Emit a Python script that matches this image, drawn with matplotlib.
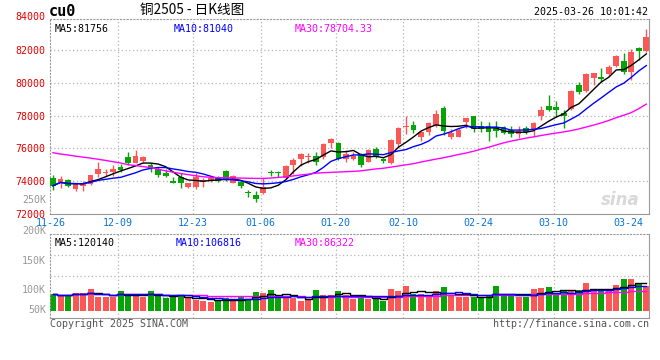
import numpy as np
import pandas as pd
import matplotlib
matplotlib.use('Agg')
import matplotlib.pyplot as plt

# daily candles, 2024-11-26 .. 2025-03-26
opens = [74200, 73940, 74060, 73510, 73710, 73800, 74410, 74470, 74550, 74880,
         75490, 75120, 75240, 74980, 74730, 74470, 74000, 74270, 73650, 73650,
         73920, 74000, 74200, 74610, 73900, 73960, 73350, 73150, 73250, 74570,
         74550, 74200, 74980, 75320, 75480, 75550, 75480, 76300, 76340, 75320,
         75360, 75650, 75180, 75950, 75340, 75080, 76240, 77330, 77440, 76700,
         77010, 77420, 78460, 76700, 76700, 77600, 77960, 77350, 77350, 77250,
         77320, 77130, 76880, 77230, 77090, 78000, 78570, 78510, 78160, 78410,
         79890, 79520, 80270, 80340, 80540, 81000, 81350, 80640, 82120, 81920]
highs = [74370, 74300, 74100, 73860, 74020, 74370, 75180, 74730, 74980, 75040,
         75800, 75900, 75550, 75080, 74840, 74710, 74270, 74510, 73900, 74470,
         74160, 74260, 74300, 74670, 74370, 74020, 73450, 73390, 74160, 74670,
         74630, 74960, 75380, 75730, 75690, 75790, 76300, 76640, 76400, 75890,
         75790, 75690, 75930, 76090, 75380, 76540, 77310, 77960, 77680, 77070,
         77620, 78370, 78590, 77150, 77270, 77880, 77960, 77680, 77620, 77660,
         77390, 77390, 77390, 77350, 77590, 78570, 79280, 78910, 78310, 79560,
         80030, 80600, 80600, 80880, 81110, 81700, 81840, 82060, 82200, 83280]
lows = [73450, 73590, 73650, 73410, 73390, 73760, 74270, 74310, 74310, 74570,
        74980, 75080, 75180, 74530, 74270, 74250, 73860, 73590, 73550, 73510,
        73650, 73960, 73960, 74020, 73860, 73590, 73000, 72740, 73210, 74300,
        74260, 74200, 74410, 74920, 75080, 74980, 75320, 75990, 75280, 75180,
        75280, 74870, 75160, 75380, 75120, 75040, 76090, 76870, 76910, 76460,
        76810, 77310, 76810, 76560, 76660, 77270, 77010, 77010, 76450, 76700,
        76880, 76720, 76640, 76880, 76720, 77700, 78260, 77900, 77250, 78350,
        79320, 79460, 79890, 80030, 80440, 80940, 80540, 80190, 81410, 81860]
closes = [73710, 74120, 73710, 73820, 73800, 74370, 74730, 74570, 74730, 74670,
          75120, 75530, 75450, 74710, 74370, 74330, 73900, 73860, 73860, 74220,
          74080, 74160, 74000, 74060, 74300, 73700, 73250, 72880, 73610, 74470,
          74510, 74920, 75280, 75650, 75550, 75180, 76260, 76560, 75320, 75650,
          75545, 74980, 75890, 75480, 75220, 76500, 77250, 77380, 77110, 77010,
          77560, 78090, 77040, 76950, 77100, 77840, 77180, 77150, 76990, 77070,
          76920, 76880, 77050, 76990, 77530, 78350, 78350, 78310, 78000, 79480,
          79420, 80540, 80580, 80230, 80940, 81650, 80640, 81860, 81920, 82770]
# MA30 as drawn (needs history before the first visible day)
ma30 = [75730, 75650, 75590, 75520, 75460, 75400, 75330, 75260, 75180, 75100,
        75000, 74940, 74880, 74820, 74720, 74620, 74540, 74460, 74390, 74320,
        74260, 74230, 74200, 74200, 74190, 74180, 74170, 74160, 74160, 74180,
        74220, 74260, 74310, 74370, 74420, 74480, 74510, 74530, 74550, 74570,
        74590, 74620, 74680, 74740, 74780, 74850, 74920, 74990, 75060, 75160,
        75250, 75340, 75420, 75520, 75620, 75710, 75820, 75950, 76060, 76200,
        76330, 76440, 76530, 76620, 76700, 76780, 76860, 76930, 77000, 77080,
        77180, 77300, 77420, 77550, 77700, 77870, 78020, 78180, 78420, 78700]
volumes = [73, 62, 69, 76, 76, 94, 59, 59, 59, 83,
           69, 70, 59, 83, 66, 55, 59, 66, 55, 48,
           41, 38, 41, 55, 49, 59, 48, 80, 76, 87,
           55, 56, 56, 42, 48, 87, 66, 66, 85, 69,
           52, 56, 52, 52, 41, 92, 85, 104, 73, 73,
           59, 83, 100, 69, 59, 59, 59, 59, 69, 104,
           66, 66, 59, 59, 92, 97, 100, 66, 85, 87,
           87, 118, 87, 87, 92, 109, 134, 134, 118, 104]
volumes = [v * 1000 for v in volumes]

date_idx = [0, 9, 19, 28, 38, 47, 57, 67, 77]
date_labels = ['11-26', '12-09', '12-23', '01-06', '01-20', '02-10', '02-24', '03-10', '03-24']
price_ticks = [72000, 74000, 76000, 78000, 80000, 82000]
vol_labels = ['250K', '200K', '150K', '100K', '50K']
vol_label_y = [200, 231, 261, 290, 310]

RED = '#fa5757'
GREEN = '#07a307'
GRID = '#b4b4b4'
MONO = 'DejaVu Sans Mono'
FS = 7.2

W, H = 660, 360
fig = plt.figure(figsize=(W / 100, H / 100), dpi=100)


def px_axes(l, t, r, b):
    return fig.add_axes([l / W, 1 - b / H, (r - l) / W, (b - t) / H])


n = len(closes)
x = np.arange(n)
o = np.array(opens); c = np.array(closes)
h = np.array(highs); lo = np.array(lows)
up = c >= o
cols = np.where(up, RED, GREEN)
gx = [i - 0.35 for i in date_idx]

# ---- price panel
ax = px_axes(50, 19, 649, 213.75)
ax.set_xlim(-0.4, 79.36)
ax.set_ylim(72000, 83900)
for p in price_ticks[1:]:
    ax.axhline(p, color=GRID, lw=0.9, ls=(0, (1, 2)), zorder=0)
for g in gx[1:-1]:
    ax.axvline(g, color=GRID, lw=0.9, ls=(0, (1, 2)), zorder=0)

ax.vlines(x, lo, h, colors=cols, lw=1, zorder=2)
body = np.maximum(np.abs(c - o), 60)
ax.bar(x, body, bottom=np.minimum(o, c), width=0.76, color=cols, zorder=3)

cs = pd.Series(closes)
ma5 = cs.rolling(5, min_periods=1).mean()
ma10 = cs.rolling(10, min_periods=1).mean()
ax.plot(x, ma5, color='black', lw=1, zorder=4)
ax.plot(x, ma10, color='#0000ff', lw=1, zorder=4)
ax.plot(x, ma30, color='#ff00ff', lw=1, zorder=4)

ax.set_yticks(price_ticks)
ax.set_yticklabels([str(p) for p in price_ticks])
ax.set_xticks(gx)
ax.set_xticklabels(date_labels)
ax.tick_params(axis='y', length=0, pad=3, labelsize=FS, labelcolor='#e60000')
ax.tick_params(axis='x', length=0, pad=3, labelsize=FS, labelcolor='#0a74d6')
for t in ax.get_xticklabels() + ax.get_yticklabels():
    t.set_fontfamily(MONO)
ax.text(-0.007, 84000, '84000', transform=ax.get_yaxis_transform(), ha='right',
        va='center', color='#e60000', fontsize=FS, family=MONO, clip_on=False)

for s in ax.spines.values():
    s.set_color('#999999')
ax.spines['top'].set_linestyle((0, (1, 2)))
ax.spines['left'].set_linestyle((0, (1, 2)))

ax.text(0.007, 0.975, 'MA5:%d' % 81756, transform=ax.transAxes, va='top',
        fontsize=FS, family=MONO, color='black')
ax.text(0.207, 0.975, 'MA10:%d' % 81040, transform=ax.transAxes, va='top',
        fontsize=FS, family=MONO, color='#0000ff')
ax.text(0.409, 0.975, 'MA30:78704.33', transform=ax.transAxes, va='top',
        fontsize=FS, family=MONO, color='#ff00ff')
ax.text(0.985, 0.07, 'sina', transform=ax.transAxes, ha='right', va='center',
        fontsize=12, style='italic', weight='bold', color='#d9d9d9', zorder=1)

# ---- volume panel
av = px_axes(50, 234, 649, 318)
av.set_xlim(-0.4, 79.36)
vlo, vhi = -29600, 325700
av.set_ylim(vlo, vhi)
for f in (0.25, 0.5, 0.75):
    av.axhline(vlo + f * (vhi - vlo), color=GRID, lw=0.9, ls=(0, (1, 2)), zorder=0)
for g in gx[1:-1]:
    av.axvline(g, color=GRID, lw=0.9, ls=(0, (1, 2)), zorder=0)
av.bar(x, volumes, width=0.8, color=cols, zorder=2)
vs = pd.Series(volumes)
av.plot(x, vs.rolling(5, min_periods=1).mean(), color='black', lw=1,
        drawstyle='steps-mid', zorder=4)
av.plot(x, vs.rolling(10, min_periods=1).mean(), color='#0000ff', lw=1,
        drawstyle='steps-mid', zorder=4)
av.plot(x, vs.rolling(30, min_periods=1).mean(), color='#ff00ff', lw=1,
        drawstyle='steps-mid', zorder=3)
av.set_xticks([])
av.set_yticks([])
for s in av.spines.values():
    s.set_color('#999999')
av.spines['top'].set_linestyle((0, (1, 2)))
av.spines['left'].set_linestyle((0, (1, 2)))
av.text(0.008, 0.95, 'MA5:120140', transform=av.transAxes, va='top',
        fontsize=FS, family=MONO, color='black')
av.text(0.209, 0.95, 'MA10:106816', transform=av.transAxes, va='top',
        fontsize=FS, family=MONO, color='#0000ff')
av.text(0.409, 0.95, 'MA30:86322', transform=av.transAxes, va='top',
        fontsize=FS, family=MONO, color='#ff00ff')

for lab, yy in zip(vol_labels, vol_label_y):
    fig.text(46 / W, 1 - yy / H, lab, ha='right', va='center', fontsize=FS,
             family=MONO, color='#999999')

# ---- titles / footer
fig.text(49 / W, 1 - 11 / H, 'cu0', ha='left', va='center', fontsize=11,
         family=MONO, weight='bold', color='black')
fig.text(140 / W, 1 - 10 / H, '铜2505 - 日K线图', ha='left', va='center',
         fontsize=9.8, family=['Noto Sans CJK SC', 'DejaVu Sans'], color='black')
fig.text(648 / W, 1 - 12 / H, '2025-03-26 10:01:42', ha='right', va='center',
         fontsize=FS, family=MONO, color='black')
fig.text(50 / W, 1 - 324 / H, 'Copyright 2025 SINA.COM', ha='left', va='center',
         fontsize=FS, family=MONO, color='#555555')
fig.text(649 / W, 1 - 324 / H, 'http://finance.sina.com.cn', ha='right',
         va='center', fontsize=FS, family=MONO, color='#555555')

fig.savefig('out.png', dpi=100, facecolor='white')
